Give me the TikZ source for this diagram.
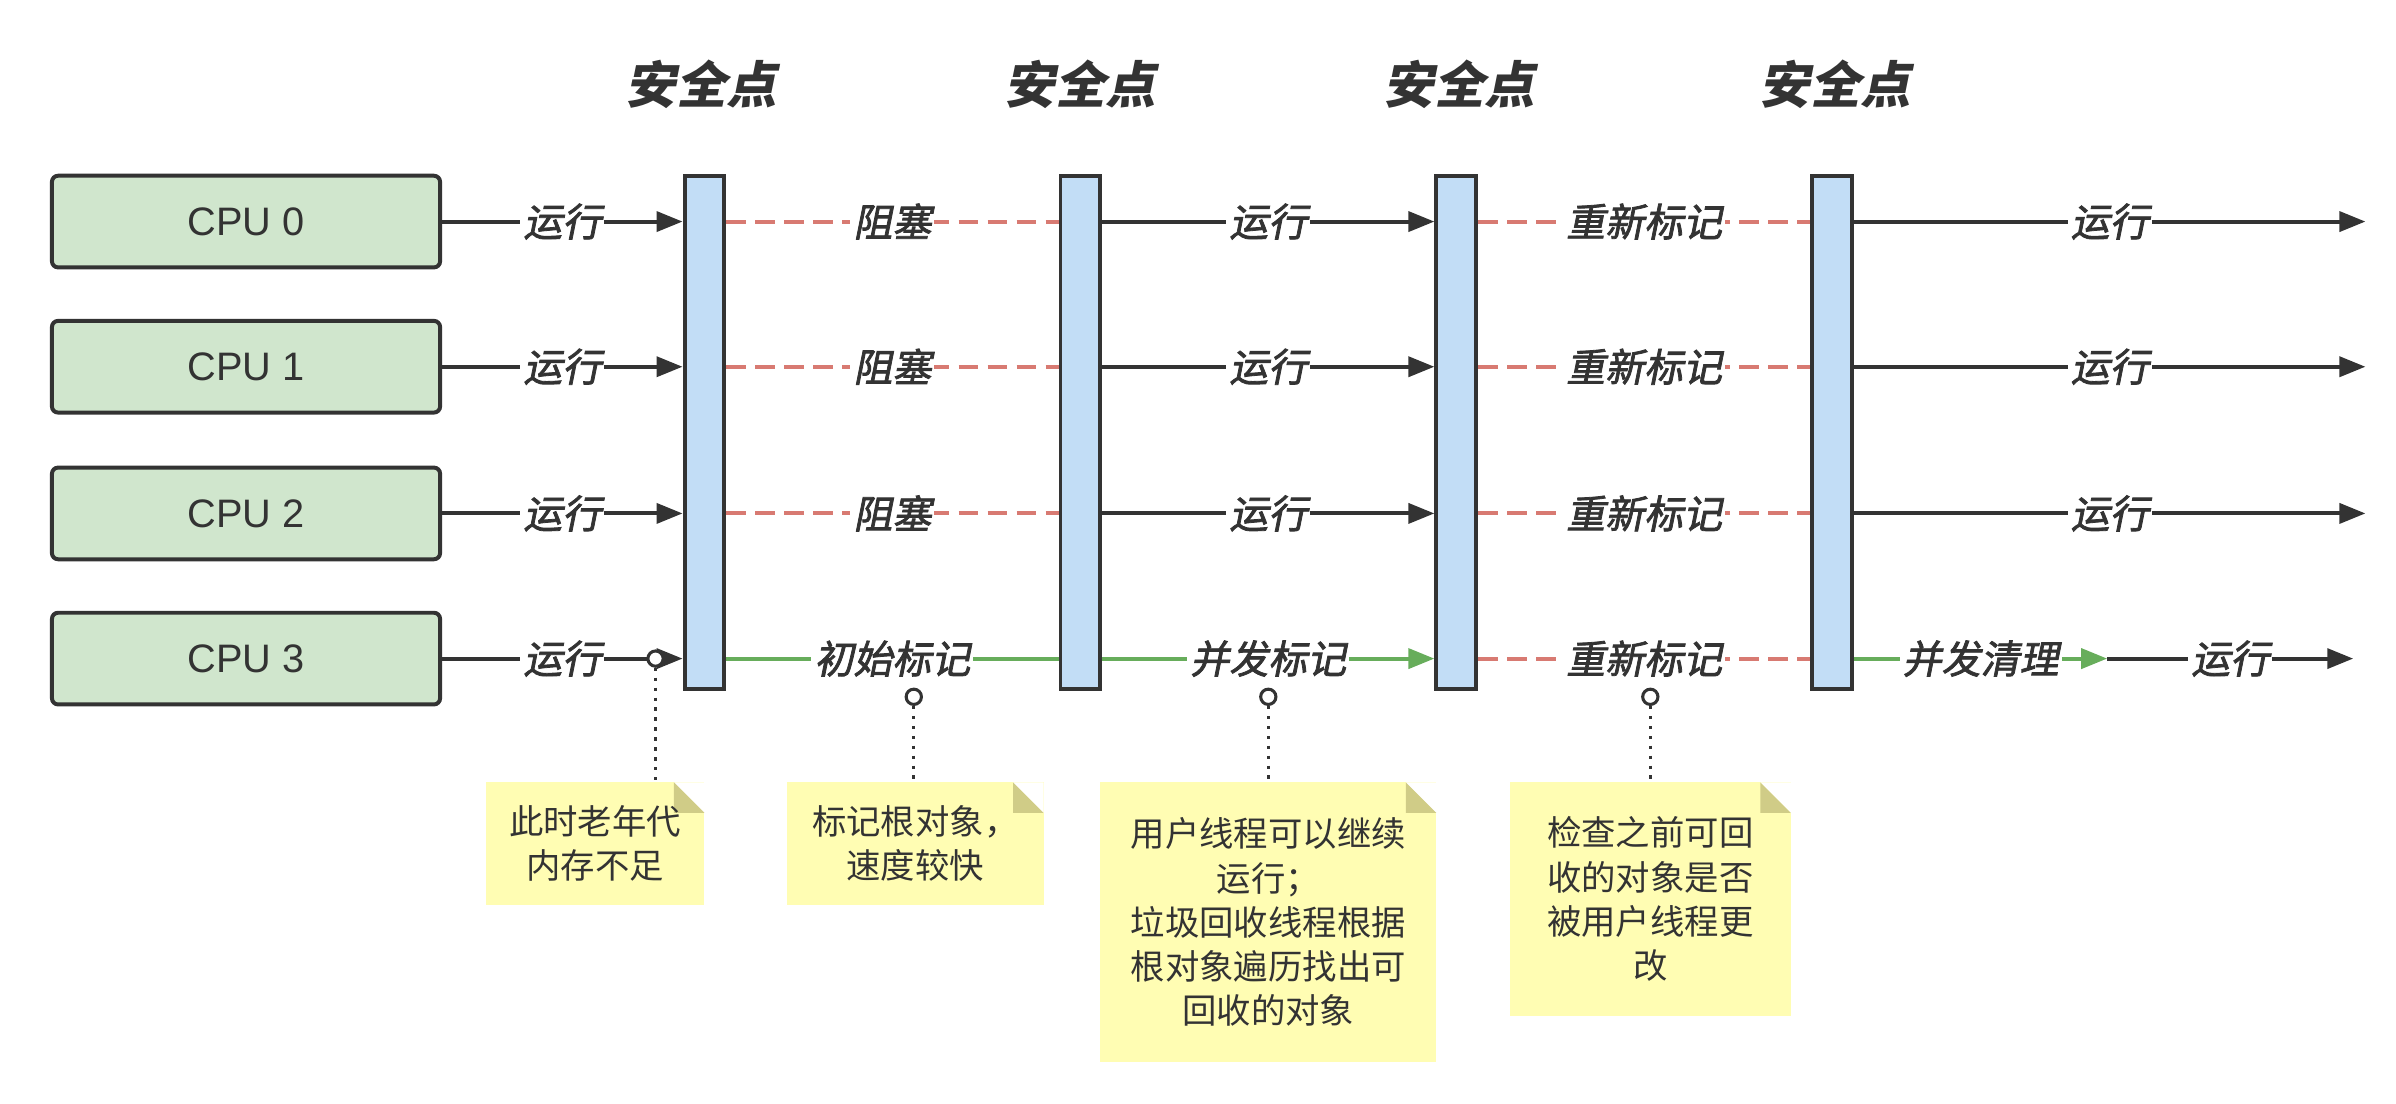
\documentclass[tikz,border=0pt]{standalone}
\usepackage{fontspec}
\setmainfont{Liberation Sans}
\newfontfamily\cjk{Noto Sans CJK SC}
\newfontfamily\cjksl{Noto Sans CJK SC}[FakeSlant=0.2]
\newfontfamily\cjklbl{Noto Sans CJK SC}[FakeSlant=0.2,FakeBold=2]
\usepackage{tikz}
\usetikzlibrary{arrows.meta,positioning}
\definecolor{gcdark}{HTML}{333333}
\definecolor{gccpu}{HTML}{D0E6CD}
\definecolor{gcbar}{HTML}{C2DDF6}
\definecolor{gcred}{HTML}{D87A72}
\definecolor{gcgreen}{HTML}{67AD5B}
\definecolor{gcnote}{HTML}{FFFDB3}
\definecolor{gcfold}{HTML}{D0CC87}
\tikzset{
  cpubox/.style={draw=gcdark,fill=gccpu,line width=2.6pt,rounded corners=4pt,minimum width=254pt,minimum height=60pt,font=\fontsize{26}{30}\selectfont,text=gcdark},
  safebar/.style={draw=gcdark,fill=gcbar,line width=2.6pt,minimum width=26pt,minimum height=336pt,inner sep=0pt},
  sptitle/.style={font=\cjksl\bfseries\fontsize{33}{38}\selectfont,text=gcdark},
  lbl/.style={fill=white,inner sep=2pt,font=\cjklbl\fontsize{25.5}{28}\selectfont,text=gcdark},
  run/.style={draw=gcdark,line width=2.6pt,-{Triangle[length=17pt,width=13pt]}},
  block/.style={draw=gcred,line width=2.6pt,dash pattern=on 13pt off 6pt},
  gcmark/.style={draw=gcgreen,line width=2.6pt},
  knob/.style={circle,draw=gcdark,fill=white,line width=2pt,minimum size=10pt,inner sep=0pt},
  dotline/.style={draw=gcdark,line width=2.2pt,dash pattern=on 2.2pt off 4.3pt},
  note/.style={fill=gcnote,inner sep=0pt,align=center,font=\cjk\fontsize{22.5}{29}\selectfont,text=gcdark,
    path picture={
      \fill[white] (path picture bounding box.north east) ++(-20,0) -- ++(20,0) -- ++(0,20) -- cycle;
      \fill[gcfold] (path picture bounding box.north east) ++(-20,0) -- ++(20,20) -- ++(-20,0) -- cycle;}},
}

\begin{document}
\begin{tikzpicture}[x=1pt,y=-1pt]
  \useasboundingbox (0,0) rectangle (1568,722);
  % cpus
  \node[cpubox] (cpu0) at (161,145) {CPU 0};
  \node[cpubox] (cpu1) at (161,240) {CPU 1};
  \node[cpubox] (cpu2) at (161,336) {CPU 2};
  \node[cpubox] (cpu3) at (161,431) {CPU 3};
  % safepoints
  \node[safebar] (sp1) at (461,283) {};
  \node[safebar] (sp2) at (707,283) {};
  \node[safebar] (sp3) at (953,283) {};
  \node[safebar] (sp4) at (1199,283) {};
  \node[sptitle] (t1) at (459,55) {安全点};
  \node[sptitle] (t2) at (707,55) {安全点};
  \node[sptitle] (t3) at (955,55) {安全点};
  \node[sptitle] (t4) at (1201,55) {安全点};
  \coordinate (end0) at (1548,145);
  \coordinate (end1) at (1548,240);
  \coordinate (end2) at (1548,336);
  \coordinate (mid3) at (1379,431);
  \coordinate (end3) at (1540,431);
  % user threads
  \foreach \r in {0,1,2}{
    \draw[run] (cpu\r) -- (sp1.west |- cpu\r) node[lbl,midway]{运行};
    \draw[block] (sp1.east |- cpu\r) -- (sp2.west |- cpu\r) node[lbl,midway]{阻塞};
    \draw[run] (sp2.east |- cpu\r) -- (sp3.west |- cpu\r) node[lbl,midway]{运行};
    \draw[block] (sp3.east |- cpu\r) -- (sp4.west |- cpu\r) node[lbl,midway]{重新标记};
    \draw[run] (sp4.east |- cpu\r) -- (end\r) node[lbl,midway]{运行};
  }
  % gc thread
  \draw[run] (cpu3) -- (sp1.west |- cpu3) node[lbl,midway]{运行};
  \draw[gcmark] (sp1.east |- cpu3) -- (sp2.west |- cpu3) node[lbl,midway]{初始标记};
  \draw[gcmark,-{Triangle[length=17pt,width=13pt]}] (sp2.east |- cpu3) -- (sp3.west |- cpu3) node[lbl,midway]{并发标记};
  \draw[block] (sp3.east |- cpu3) -- (sp4.west |- cpu3) node[lbl,midway]{重新标记};
  \draw[gcmark,-{Triangle[length=17pt,width=13pt]}] (sp4.east |- cpu3) -- (mid3) node[lbl,midway]{并发清理};
  \draw[run] (mid3) -- (end3) node[lbl,midway]{运行};
  % notes
  \node[note,minimum width=143pt,minimum height=80pt] (n1) at (389.5,552) {此时老年代\\内存不足};
  \node[note,minimum width=168pt,minimum height=80pt] (n2) at (599,552) {标记根对象，\\速度较快};
  \node[note,minimum width=220pt,minimum height=183pt] (n3) at (830,603.5) {用户线程可以继续\\运行；\\垃圾回收线程根据\\根对象遍历找出可\\回收的对象};
  \node[note,minimum width=184pt,minimum height=153pt] (n4) at (1080,588.5) {检查之前可回\\收的对象是否\\被用户线程更\\改};
  \node[knob] (c0) at (429,431) {};
  \node[knob] (c1) at (598,456) {};
  \node[knob] (c2) at (830,456) {};
  \node[knob] (c3) at (1080,456) {};
  \draw[dotline] (c0) -- (c0 |- n1.north);
  \draw[dotline] (c1) -- (c1 |- n2.north);
  \draw[dotline] (c2) -- (c2 |- n3.north);
  \draw[dotline] (c3) -- (c3 |- n4.north);
\end{tikzpicture}
\end{document}
